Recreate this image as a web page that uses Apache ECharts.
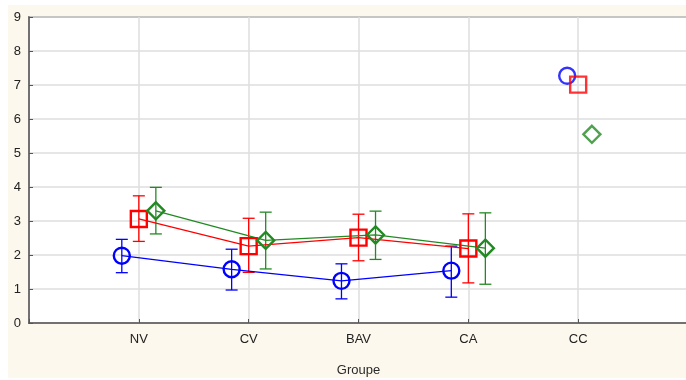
<!DOCTYPE html>
<html>
<head>
<meta charset="utf-8">
<script src="https://cdn.jsdelivr.net/npm/echarts@6/dist/echarts.min.js"></script>
<style>
html,body{margin:0;padding:0;background:#ffffff;}
#bg{position:absolute;left:8px;top:5px;width:678px;height:373px;background:#fdf8ed;}
#c{position:absolute;left:0;top:0;width:686px;height:380px;}
</style>
</head>
<body>
<div id="bg"></div>
<div id="c"></div>
<script>
// ---- data ----
const categories = ['NV', 'CV', 'BAV', 'CA', 'CC'];
const yTicks = [0,1,2,3,4,5,6,7,8,9];
const xName = 'Groupe';

// series 1 (blue circles)
const blueMean  = [1.98, 1.58, 1.24, 1.54, 7.27];
const blueLow   = [1.48, 0.97, 0.71, 0.76, null];
const blueHigh  = [2.46, 2.17, 1.74, 2.26, null];
// series 2 (red squares)
const redMean   = [3.06, 2.26, 2.51, 2.19, 7.01];
const redLow    = [2.40, 1.49, 1.83, 1.18, null];
const redHigh   = [3.74, 3.08, 3.20, 3.21, null];
// series 3 (green diamonds)
const greenMean = [3.30, 2.43, 2.59, 2.20, 5.55];
const greenLow  = [2.62, 1.59, 1.87, 1.14, null];
const greenHigh = [3.99, 3.26, 3.29, 3.24, null];

// ---- layout / style (not data) ----
const connected = 4; // first four groups are joined by lines
const offsets = {
  blue:  [-0.155, -0.155, -0.155, -0.155, -0.10],
  red:   [0, 0, 0, 0, 0],
  green: [0.155, 0.155, 0.155, 0.155, 0.125]
};
const COLORS = { blue: '#0000ff', red: '#ff0000', green: '#238a23' };
const SYMBOLS = { blue: 'circle', red: 'rect', green: 'diamond' };
const SIZES = { blue: 16, red: 16, green: 17 };
const FONT = 'Liberation Sans, Arial, sans-serif';

const groups = [
  { key: 'blue',  mean: blueMean,  low: blueLow,  high: blueHigh },
  { key: 'red',   mean: redMean,   low: redLow,   high: redHigh },
  { key: 'green', mean: greenMean, low: greenLow, high: greenHigh }
];

const series = [];
groups.forEach(g => {
  const col = COLORS[g.key];
  const pts = g.mean.map((v, i) => [i + 1 + offsets[g.key][i], v]);
  // error bars
  const errData = [];
  g.low.forEach((lo, i) => {
    if (lo != null) errData.push([i + 1 + offsets[g.key][i], lo, g.high[i]]);
  });
  series.push({
    type: 'custom',
    silent: true,
    z: 2,
    data: errData,
    encode: { x: 0, y: [1, 2] },
    renderItem: function (params, api) {
      const x = api.value(0);
      const lo = api.coord([x, api.value(1)]);
      const hi = api.coord([x, api.value(2)]);
      const cap = 6;
      const style = { stroke: col, lineWidth: 1.3 };
      return {
        type: 'group',
        children: [
          { type: 'line', shape: { x1: lo[0], y1: lo[1], x2: hi[0], y2: hi[1] }, style: style },
          { type: 'line', shape: { x1: lo[0] - cap, y1: lo[1], x2: lo[0] + cap, y2: lo[1] }, style: style },
          { type: 'line', shape: { x1: hi[0] - cap, y1: hi[1], x2: hi[0] + cap, y2: hi[1] }, style: style }
        ]
      };
    }
  });
  const markerStyle = { color: 'rgba(0,0,0,0)', borderColor: col, borderWidth: 2.4 };
  series.push({
    type: 'line',
    z: 3,
    data: pts.slice(0, connected),
    symbol: SYMBOLS[g.key],
    symbolSize: SIZES[g.key],
    showAllSymbol: true,
    lineStyle: { color: col, width: 1.3 },
    itemStyle: markerStyle,
    animation: false
  });
  series.push({
    type: 'scatter',
    z: 3,
    data: pts.slice(connected),
    symbol: SYMBOLS[g.key],
    symbolSize: SIZES[g.key],
    itemStyle: markerStyle,
    animation: false
  });
});

const chart = echarts.init(document.getElementById('c'), null, { renderer: 'canvas' });
chart.setOption({
  animation: false,
  backgroundColor: 'transparent',
  grid: {
    left: 29, top: 17, right: -2, bottom: 57,
    outerBoundsMode: 'none', containLabel: false,
    show: true, borderColor: '#555555', borderWidth: 1.5, backgroundColor: '#ffffff'
  },
  xAxis: {
    type: 'value',
    min: 0, max: categories.length + 1, interval: 1,
    name: xName,
    nameLocation: 'middle',
    nameGap: 41,
    nameTextStyle: { fontFamily: FONT, fontSize: 13, color: '#2a2a2a' },
    axisLine: { show: true, lineStyle: { color: '#555555', width: 1.5 } },
    axisTick: { show: true, inside: true, length: 4, lineStyle: { color: '#555555' } },
    splitLine: { show: true, lineStyle: { color: '#dedede', width: 1.5 } },
    axisLabel: {
      fontFamily: FONT, fontSize: 13, color: '#222222', margin: 10,
      formatter: v => (v >= 1 && v <= categories.length) ? categories[v - 1] : ''
    }
  },
  yAxis: {
    type: 'value',
    min: yTicks[0], max: yTicks[yTicks.length - 1], interval: 1,
    axisLine: { show: true, lineStyle: { color: '#555555', width: 1.5 } },
    axisTick: { show: true, inside: true, length: 4, lineStyle: { color: '#555555' } },
    splitLine: { show: true, lineStyle: { color: '#dedede', width: 1.5 } },
    axisLabel: { fontFamily: FONT, fontSize: 13, color: '#222222', margin: 8 }
  },
  series: series
});
</script>
</body>
</html>
